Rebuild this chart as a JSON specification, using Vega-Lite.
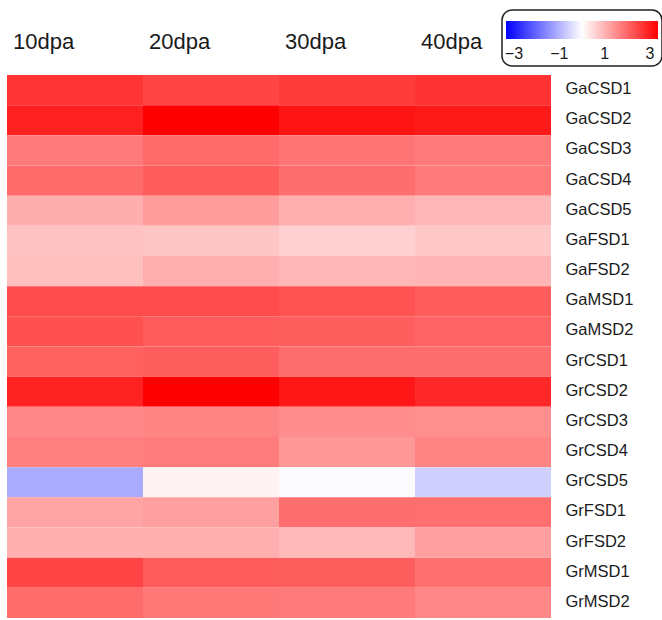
{
  "$schema": "https://vega.github.io/schema/vega-lite/v6.json",
  "width": 544,
  "height": 543,
  "autosize": {"type": "none"},
  "padding": {"left": 7, "top": 75, "right": 111, "bottom": 2},
  "background": "white",
  "config": {
    "font": "Liberation Sans",
    "view": {"stroke": null},
    "axis": {"labelFont": "Liberation Sans", "labelColor": "#1a1a1a"},
    "legend": {"labelFont": "Liberation Sans", "labelColor": "#1a1a1a"}
  },
  "data": {
    "values": [
      {"gene": "GaCSD1", "stage": "10dpa", "value": 2.65},
      {"gene": "GaCSD1", "stage": "20dpa", "value": 2.44},
      {"gene": "GaCSD1", "stage": "30dpa", "value": 2.59},
      {"gene": "GaCSD1", "stage": "40dpa", "value": 2.68},
      {"gene": "GaCSD2", "stage": "10dpa", "value": 2.93},
      {"gene": "GaCSD2", "stage": "20dpa", "value": 3.35},
      {"gene": "GaCSD2", "stage": "30dpa", "value": 3.09},
      {"gene": "GaCSD2", "stage": "40dpa", "value": 3.01},
      {"gene": "GaCSD3", "stage": "10dpa", "value": 1.75},
      {"gene": "GaCSD3", "stage": "20dpa", "value": 1.94},
      {"gene": "GaCSD3", "stage": "30dpa", "value": 1.81},
      {"gene": "GaCSD3", "stage": "40dpa", "value": 1.73},
      {"gene": "GaCSD4", "stage": "10dpa", "value": 1.96},
      {"gene": "GaCSD4", "stage": "20dpa", "value": 2.14},
      {"gene": "GaCSD4", "stage": "30dpa", "value": 1.9},
      {"gene": "GaCSD4", "stage": "40dpa", "value": 1.75},
      {"gene": "GaCSD5", "stage": "10dpa", "value": 1.06},
      {"gene": "GaCSD5", "stage": "20dpa", "value": 1.3},
      {"gene": "GaCSD5", "stage": "30dpa", "value": 1.05},
      {"gene": "GaCSD5", "stage": "40dpa", "value": 0.93},
      {"gene": "GaFSD1", "stage": "10dpa", "value": 0.8},
      {"gene": "GaFSD1", "stage": "20dpa", "value": 0.75},
      {"gene": "GaFSD1", "stage": "30dpa", "value": 0.62},
      {"gene": "GaFSD1", "stage": "40dpa", "value": 0.72},
      {"gene": "GaFSD2", "stage": "10dpa", "value": 0.83},
      {"gene": "GaFSD2", "stage": "20dpa", "value": 1.05},
      {"gene": "GaFSD2", "stage": "30dpa", "value": 0.95},
      {"gene": "GaFSD2", "stage": "40dpa", "value": 0.97},
      {"gene": "GaMSD1", "stage": "10dpa", "value": 2.36},
      {"gene": "GaMSD1", "stage": "20dpa", "value": 2.37},
      {"gene": "GaMSD1", "stage": "30dpa", "value": 2.27},
      {"gene": "GaMSD1", "stage": "40dpa", "value": 2.14},
      {"gene": "GaMSD2", "stage": "10dpa", "value": 2.3},
      {"gene": "GaMSD2", "stage": "20dpa", "value": 2.13},
      {"gene": "GaMSD2", "stage": "30dpa", "value": 2.12},
      {"gene": "GaMSD2", "stage": "40dpa", "value": 2.02},
      {"gene": "GrCSD1", "stage": "10dpa", "value": 2.09},
      {"gene": "GrCSD1", "stage": "20dpa", "value": 2.12},
      {"gene": "GrCSD1", "stage": "30dpa", "value": 1.9},
      {"gene": "GrCSD1", "stage": "40dpa", "value": 1.9},
      {"gene": "GrCSD2", "stage": "10dpa", "value": 2.9},
      {"gene": "GrCSD2", "stage": "20dpa", "value": 3.35},
      {"gene": "GrCSD2", "stage": "30dpa", "value": 3.05},
      {"gene": "GrCSD2", "stage": "40dpa", "value": 2.82},
      {"gene": "GrCSD3", "stage": "10dpa", "value": 1.58},
      {"gene": "GrCSD3", "stage": "20dpa", "value": 1.6},
      {"gene": "GrCSD3", "stage": "30dpa", "value": 1.5},
      {"gene": "GrCSD3", "stage": "40dpa", "value": 1.47},
      {"gene": "GrCSD4", "stage": "10dpa", "value": 1.68},
      {"gene": "GrCSD4", "stage": "20dpa", "value": 1.72},
      {"gene": "GrCSD4", "stage": "30dpa", "value": 1.34},
      {"gene": "GrCSD4", "stage": "40dpa", "value": 1.6},
      {"gene": "GrCSD5", "stage": "10dpa", "value": -1.12},
      {"gene": "GrCSD5", "stage": "20dpa", "value": 0.16},
      {"gene": "GrCSD5", "stage": "30dpa", "value": -0.07},
      {"gene": "GrCSD5", "stage": "40dpa", "value": -0.62},
      {"gene": "GrFSD1", "stage": "10dpa", "value": 1.18},
      {"gene": "GrFSD1", "stage": "20dpa", "value": 1.25},
      {"gene": "GrFSD1", "stage": "30dpa", "value": 1.9},
      {"gene": "GrFSD1", "stage": "40dpa", "value": 1.89},
      {"gene": "GrFSD2", "stage": "10dpa", "value": 1.02},
      {"gene": "GrFSD2", "stage": "20dpa", "value": 1.05},
      {"gene": "GrFSD2", "stage": "30dpa", "value": 0.92},
      {"gene": "GrFSD2", "stage": "40dpa", "value": 1.25},
      {"gene": "GrMSD1", "stage": "10dpa", "value": 2.44},
      {"gene": "GrMSD1", "stage": "20dpa", "value": 2.14},
      {"gene": "GrMSD1", "stage": "30dpa", "value": 2.12},
      {"gene": "GrMSD1", "stage": "40dpa", "value": 1.88},
      {"gene": "GrMSD2", "stage": "10dpa", "value": 1.93},
      {"gene": "GrMSD2", "stage": "20dpa", "value": 1.77},
      {"gene": "GrMSD2", "stage": "30dpa", "value": 1.75},
      {"gene": "GrMSD2", "stage": "40dpa", "value": 1.58}
    ]
  },
  "mark": {"type": "rect", "strokeWidth": 0},
  "encoding": {
    "x": {
      "field": "stage",
      "type": "nominal",
      "sort": null,
      "scale": {"paddingInner": 0, "paddingOuter": 0},
      "axis": {
        "orient": "top",
        "title": null,
        "domain": false,
        "ticks": false,
        "labelAngle": 0,
        "labelAlign": "left",
        "labelOffset": -62,
        "labelBaseline": "alphabetic",
        "labelPadding": 27,
        "labelFontSize": 22
      }
    },
    "y": {
      "field": "gene",
      "type": "nominal",
      "sort": null,
      "scale": {"paddingInner": 0, "paddingOuter": 0},
      "axis": {
        "orient": "right",
        "title": null,
        "domain": false,
        "ticks": false,
        "labelPadding": 14,
        "labelOffset": -1,
        "labelFontSize": 16.5
      }
    },
    "color": {
      "field": "value",
      "type": "quantitative",
      "scale": {
        "domain": [-3.35, 0, 3.35],
        "range": ["#0000ff", "#ffffff", "#ff0000"],
        "interpolate": "rgb"
      },
      "legend": {
        "title": " ",
        "titleFontSize": 5,
        "titlePadding": 2,
        "orient": "none",
        "direction": "horizontal",
        "legendX": 495,
        "legendY": -65,
        "gradientLength": 152,
        "gradientThickness": 18,
        "gradientStrokeWidth": 0,
        "values": [-3, -1, 1, 3],
        "labelFontSize": 16,
        "labelOffset": 7,
        "strokeColor": "#222222",
        "cornerRadius": 10,
        "padding": 4,
        "encode": {"legend": {"update": {"strokeWidth": {"value": 1.5}}}}
      }
    }
  }
}
